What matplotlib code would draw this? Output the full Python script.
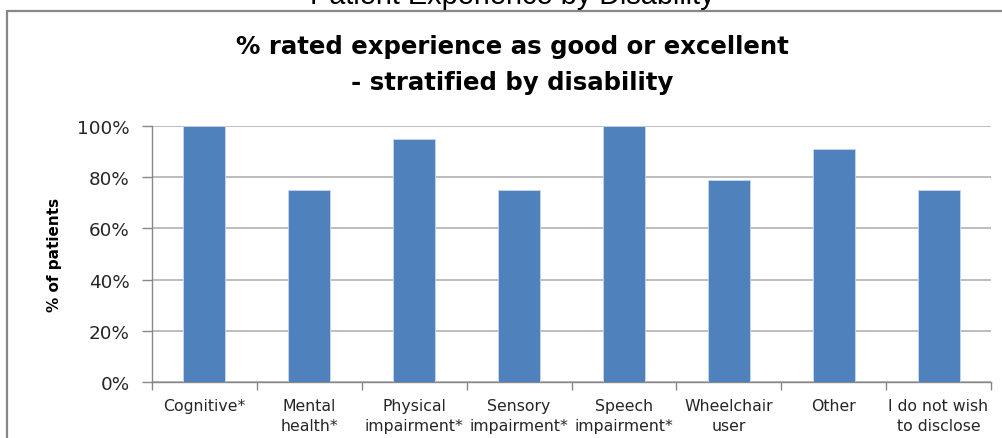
import matplotlib.pyplot as plt
from matplotlib.patches import Rectangle
from matplotlib.ticker import FixedLocator, PercentFormatter

# -------- Data ----------
categories = ["Cognitive*", "Mental\nhealth*", "Physical\nimpairment*", "Sensory\nimpairment*",
              "Speech\nimpairment*", "Wheelchair\nuser", "Other", "I do not wish\nto disclose"]
pct_good = [100, 75, 95, 75, 100, 79, 91, 75]
y_ticks = [0, 20, 40, 60, 80, 100]
# ------------------------

W, H = 1002, 439
BAR_BLUE = "#4F81BD"
GRID = "#b8b8b8"
TXT = "#262626"


def fx(px):
    return px / W


def fy(py):
    return 1 - py / H


fig = plt.figure(figsize=(W / 100, H / 100), dpi=100)
fig.patch.set_facecolor("white")

# outer (web page) title, mostly cut off at the top
fig.text(fx(512), fy(4), "Patient Experience by Disability", family="Liberation Sans",
         fontsize=20.8, ha="center", va="baseline", color="black")

# grey frame of the embedded chart picture
fig.patches.append(Rectangle((fx(6.5), fy(H + 20)), fx(W + 20), fy(12) - fy(H + 20),
                             transform=fig.transFigure, fill=False, edgecolor="#878787",
                             linewidth=1.6, zorder=0))

# chart title
fig.text(fx(512), fy(47), "% rated experience as good or excellent", fontsize=17.6,
         fontweight="bold", ha="center", va="center", color="black")
fig.text(fx(512), fy(83), "- stratified by disability", fontsize=17.6,
         fontweight="bold", ha="center", va="center", color="black")

ax = fig.add_axes([fx(152), fy(383.3), fx(991 - 152), (383.3 - 126.7) / H])
x = list(range(len(categories)))
ax.bar(x, pct_good, width=0.4, color=BAR_BLUE, edgecolor="#c9d8ec", linewidth=0.6, zorder=3)

ax.set_xlim(-0.5, len(categories) - 0.5)
ax.set_ylim(0, 100)
ax.set_yticks(y_ticks)
ax.yaxis.set_major_formatter(PercentFormatter(decimals=0))
ax.grid(axis="y", color=GRID, linewidth=1.3, zorder=0)

ax.set_xticks(x)
ax.set_xticklabels(categories, fontsize=11.3, color=TXT, linespacing=1.45, va="top")
ax.xaxis.set_minor_locator(FixedLocator([i - 0.5 for i in range(len(categories) + 1)]))
ax.tick_params(axis="x", which="major", length=0, pad=11)
ax.tick_params(axis="x", which="minor", length=6, color="#888888", width=1)
ax.tick_params(axis="y", length=7, color="#888888", width=1, labelsize=13.2,
               labelcolor=TXT, pad=9)

for side in ["top", "right"]:
    ax.spines[side].set_visible(False)
for side in ["left", "bottom"]:
    ax.spines[side].set_color("#888888")
    ax.spines[side].set_linewidth(1)

fig.text(fx(55), fy(255), "% of patients", rotation=90, fontsize=11, fontweight="bold",
         ha="center", va="center", color="black")

fig.savefig("out.png", dpi=100)
